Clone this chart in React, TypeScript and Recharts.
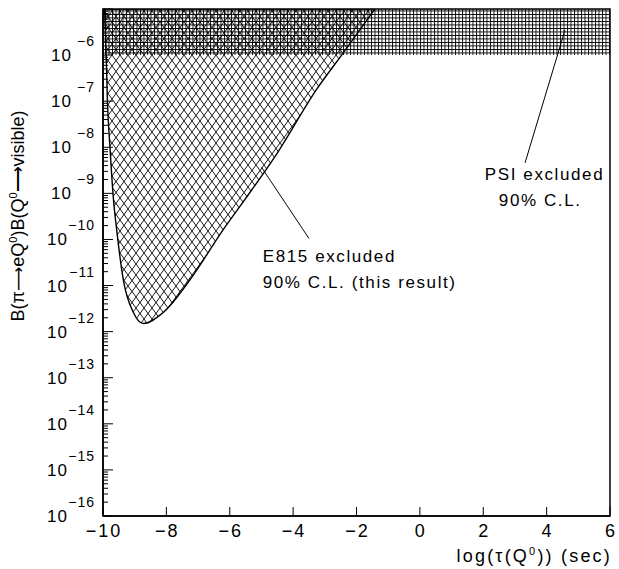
import React from "react";
import {
  Area,
  ComposedChart,
  ReferenceArea,
  ReferenceDot,
  ReferenceLine,
  XAxis,
  YAxis,
} from "recharts";

const FONT = '"Liberation Sans", Arial, Helvetica, sans-serif';

// axis ticks
const X_TICKS = [-10, -8, -6, -4, -2, 0, 2, 4, 6];
const DECADES = [-16, -15, -14, -13, -12, -11, -10, -9, -8, -7, -6, -5];
const LABELLED_DECADES = [-16, -15, -14, -13, -12, -11, -10, -9, -8, -7, -6];
const MINOR_MULTIPLIERS = [2, 3, 4, 5, 6, 7, 8, 9];

const Y_MIN = 1e-16;
const Y_MAX = 1e-5;

// E815 excluded region: lower boundary, open to the top
const e815X = [-9.95, -9.9, -9.86, -9.78, -9.67, -9.57, -9.36, -9.04, -8.73, -8.1, -7.25, -6.2, -5.52, -4.5, -3.26, -2.47, -1.42];
const e815Lower = [1e-5, 1e-6, 1e-7, 1e-8, 7.4e-10, 1.66e-10, 1.35e-11, 2.6e-12, 1.5e-12, 2.6e-12, 1.35e-11, 1.66e-10, 7.4e-10, 7.5e-9, 1.8e-7, 1e-6, 1e-5];

// PSI excluded band
const psiX = [-10, 6];
const psiLower = [1e-6, 1e-6];

// annotation leader lines
const e815Leader = [
  { x: -5.0, y: 3.7e-9 },
  { x: -3.5, y: 1.05e-10 },
];
const psiLeader = [
  { x: 4.58, y: 3.5e-6 },
  { x: 3.32, y: 4.6e-9 },
];

const e815Rows = e815X.map((x, i) => ({ x, band: [e815Lower[i], Y_MAX] }));
const psiRows = psiX.map((x, i) => ({ x, band: [psiLower[i], Y_MAX] }));

const yTicks: number[] = [];
for (const d of DECADES) {
  yTicks.push(Math.pow(10, d));
  if (d < -5) for (const m of MINOR_MULTIPLIERS) yTicks.push(m * Math.pow(10, d));
}

function fmtX(v: number) {
  return v < 0 ? "\u2212" + Math.abs(v) : String(v);
}

function XTick(props: any) {
  const { x, y, payload } = props;
  return (
    <g>
      <line x1={x} x2={x} y1={y} y2={y - 9} stroke="#000" strokeWidth={1} />
      <text x={x + 1} y={y + 21} textAnchor="middle" fontSize={18} letterSpacing={2} fill="#000" fontFamily={FONT}>
        {fmtX(payload.value)}
      </text>
    </g>
  );
}

function YTick(props: any) {
  const { x, y, payload } = props;
  const lg = Math.log10(payload.value);
  const e = Math.round(lg);
  const major = Math.abs(lg - e) < 1e-6;
  const showLabel = major && LABELLED_DECADES.includes(e);
  const twoDigit = e <= -10;
  return (
    <g>
      <line x1={x} x2={x + (major ? 10 : 5)} y1={y} y2={y} stroke="#000" strokeWidth={1} />
      {showLabel && (
        <>
          <text x={twoDigit ? x - 35 : x - 31} y={y + 6} textAnchor="end" fontSize={17} letterSpacing={1} fill="#000" fontFamily={FONT}>
            10
          </text>
          <text x={x - 8} y={y - 9} textAnchor="end" fontSize={14} letterSpacing={1} fill="#000" fontFamily={FONT}>
            {"\u2212" + Math.abs(e)}
          </text>
        </>
      )}
    </g>
  );
}

function Note({ cx, cy, lines, indent }: { cx?: number; cy?: number; lines: string[]; indent: number[] }) {
  if (cx == null || cy == null) return null;
  return (
    <g>
      {lines.map((t, i) => (
        <text key={i} x={cx + indent[i]} y={cy + i * 26} fontSize={17} letterSpacing={1.6} fill="#000" fontFamily={FONT}>
          {t}
        </text>
      ))}
    </g>
  );
}

const ARROW = (
  <tspan fontFamily='"DejaVu Sans", sans-serif' fontSize={17}>
    {"\u27F6"}
  </tspan>
);

export default function App() {
  return (
    <div style={{ position: "absolute", left: 0, top: 0, width: 619, height: 569, background: "#fff" }}>
      <ComposedChart width={619} height={569} margin={{ top: 9, right: 9, bottom: 52, left: 102 }} style={{ fontFamily: FONT }}>
        <defs>
          <pattern id="e815Hatch" patternUnits="userSpaceOnUse" width={8} height={11}>
            <path d="M-1,-1.375 L9,12.375 M9,-1.375 L-1,12.375" stroke="#000" strokeWidth={0.9} fill="none" />
          </pattern>
          <pattern id="psiGrid" patternUnits="userSpaceOnUse" width={3.5} height={3.5}>
            <path d="M0,0.5 H3.5 M0.5,0 V3.5" stroke="#000" strokeWidth={0.9} fill="none" />
          </pattern>
        </defs>
        <XAxis
          type="number"
          dataKey="x"
          domain={[-10, 6]}
          ticks={X_TICKS}
          interval={0}
          height={1}
          tickSize={0}
          tickMargin={0}
          tick={(p: any) => <XTick {...p} />}
          axisLine={{ stroke: "#000", strokeWidth: 1.5 }}
          allowDataOverflow
        />
        <YAxis
          type="number"
          scale="log"
          domain={[Y_MIN, Y_MAX]}
          ticks={yTicks}
          interval={0}
          width={1}
          tickSize={0}
          tickMargin={0}
          tick={(p: any) => <YTick {...p} />}
          axisLine={{ stroke: "#000", strokeWidth: 1.5 }}
          allowDataOverflow
        />
        <Area
          data={e815Rows}
          dataKey="band"
          type="monotone"
          stroke="#000"
          strokeWidth={1.4}
          fill="url(#e815Hatch)"
          fillOpacity={1}
          isAnimationActive={false}
          dot={false}
          activeDot={false}
        />
        <Area
          data={psiRows}
          dataKey="band"
          type="linear"
          stroke="none"
          fill="url(#psiGrid)"
          fillOpacity={1}
          isAnimationActive={false}
          dot={false}
          activeDot={false}
        />
        <ReferenceLine segment={e815Leader} stroke="#000" strokeWidth={1} />
        <ReferenceLine segment={psiLeader} stroke="#000" strokeWidth={1} />
        <ReferenceDot
          x={-4.96}
          y={3.3e-11}
          r={0}
          shape={(p: any) => <Note cx={p.cx} cy={p.cy} lines={["E815 excluded", "90% C.L. (this result)"]} indent={[0, 0]} />}
        />
        <ReferenceDot
          x={2.05}
          y={1.95e-9}
          r={0}
          shape={(p: any) => <Note cx={p.cx} cy={p.cy} lines={["PSI excluded", "90% C.L."]} indent={[0, 14]} />}
        />
        <ReferenceArea x1={-10} x2={6} y1={Y_MIN} y2={Y_MAX} fill="none" stroke="#000" strokeWidth={1.5} />
        <text
          transform="translate(24, 216) rotate(-90)"
          textAnchor="middle"
          fontSize={18}
          fill="#000"
          fontFamily={FONT}
        >
          B(π{ARROW}eQ<tspan fontSize={11} dy={-7}>0</tspan>
          <tspan dy={7}>)B(Q</tspan>
          <tspan fontSize={11} dy={-7}>0</tspan>
          <tspan dy={7}>{"\u27F6"}</tspan>
          <tspan>visible)</tspan>
        </text>
        <text x={612} y={562} textAnchor="end" fontSize={18} letterSpacing={2.2} fill="#000" fontFamily={FONT}>
          log(τ(Q<tspan fontSize={11} dy={-7}>0</tspan>
          <tspan dy={7}>)) (sec)</tspan>
        </text>
      </ComposedChart>
    </div>
  );
}
